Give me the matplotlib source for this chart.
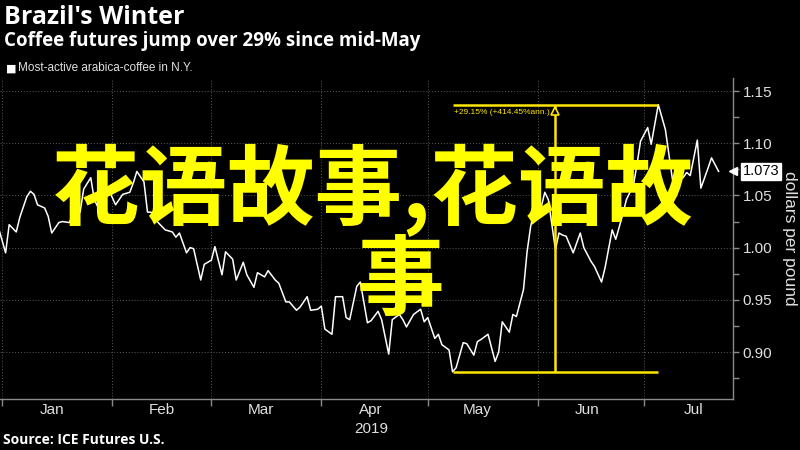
import numpy as np
import pandas as pd
import matplotlib as mpl
mpl.use('Agg')
import matplotlib.pyplot as plt
import matplotlib.dates as mdates
from matplotlib.ticker import MultipleLocator, FormatStrFormatter

# Most-active arabica coffee, N.Y. (dollars per pound)
dates = [
    '2018-12-31', '2019-01-02', '2019-01-03', '2019-01-05', '2019-01-06', '2019-01-08',
    '2019-01-09', '2019-01-10', '2019-01-11', '2019-01-13', '2019-01-14', '2019-01-15',
    '2019-01-17', '2019-01-18', '2019-01-20', '2019-01-21', '2019-01-23', '2019-01-24',
    '2019-01-26', '2019-01-27', '2019-01-29', '2019-01-31', '2019-02-02', '2019-02-03',
    '2019-02-04', '2019-02-06', '2019-02-07', '2019-02-08', '2019-02-10', '2019-02-11',
    '2019-02-12', '2019-02-14', '2019-02-16', '2019-02-18', '2019-02-19', '2019-02-20',
    '2019-02-22', '2019-02-23', '2019-02-24', '2019-02-26', '2019-02-27', '2019-03-01',
    '2019-03-02', '2019-03-04', '2019-03-05', '2019-03-07', '2019-03-08', '2019-03-10',
    '2019-03-11', '2019-03-13', '2019-03-14', '2019-03-16', '2019-03-17', '2019-03-19',
    '2019-03-20', '2019-03-22', '2019-03-23', '2019-03-25', '2019-03-26', '2019-03-28',
    '2019-03-29', '2019-03-31', '2019-04-01', '2019-04-02', '2019-04-04', '2019-04-05',
    '2019-04-07', '2019-04-08', '2019-04-09', '2019-04-11', '2019-04-12', '2019-04-14',
    '2019-04-15', '2019-04-17', '2019-04-18', '2019-04-20', '2019-04-21', '2019-04-23',
    '2019-04-24', '2019-04-25', '2019-04-27', '2019-04-29', '2019-04-30', '2019-05-01',
    '2019-05-03', '2019-05-04', '2019-05-05', '2019-05-07', '2019-05-08', '2019-05-09',
    '2019-05-11', '2019-05-12', '2019-05-14', '2019-05-15', '2019-05-16', '2019-05-18',
    '2019-05-20', '2019-05-21', '2019-05-22', '2019-05-24', '2019-05-25', '2019-05-26',
    '2019-05-28', '2019-05-29', '2019-05-30', '2019-05-31', '2019-06-02', '2019-06-03',
    '2019-06-04', '2019-06-06', '2019-06-07', '2019-06-08', '2019-06-09', '2019-06-11',
    '2019-06-13', '2019-06-14', '2019-06-16', '2019-06-17', '2019-06-19', '2019-06-20',
    '2019-06-22', '2019-06-23', '2019-06-25', '2019-06-26', '2019-06-28', '2019-06-29',
    '2019-06-30', '2019-07-02', '2019-07-03', '2019-07-05', '2019-07-07', '2019-07-09',
    '2019-07-10', '2019-07-12', '2019-07-13', '2019-07-14', '2019-07-16', '2019-07-17',
    '2019-07-19', '2019-07-20', '2019-07-22',
]
prices = [
    1.019, 0.995, 1.022, 1.015, 1.029, 1.049,
    1.054, 1.051, 1.041, 1.038, 1.030, 1.014,
    1.024, 1.025, 1.024, 1.034, 1.034, 1.056,
    1.067, 1.046, 1.032, 1.056, 1.041, 1.046,
    1.051, 1.053, 1.062, 1.073, 1.063, 1.034,
    1.034, 1.024, 1.017, 1.015, 1.010, 1.014,
    0.995, 1.000, 0.999, 0.969, 0.984, 0.988,
    1.001, 0.974, 0.996, 0.989, 0.969, 0.986,
    0.974, 0.962, 0.976, 0.972, 0.978, 0.969,
    0.966, 0.948, 0.948, 0.940, 0.943, 0.953,
    0.940, 0.941, 0.944, 0.922, 0.917, 0.953,
    0.953, 0.933, 0.931, 0.963, 0.967, 0.928,
    0.930, 0.939, 0.931, 0.898, 0.931, 0.936,
    0.931, 0.924, 0.936, 0.941, 0.929, 0.933,
    0.913, 0.917, 0.907, 0.902, 0.881, 0.885,
    0.909, 0.908, 0.897, 0.910, 0.912, 0.917,
    0.891, 0.900, 0.929, 0.919, 0.936, 0.934,
    0.960, 0.996, 1.020, 1.036, 1.039, 1.053,
    1.046, 0.998, 1.014, 1.012, 1.011, 0.995,
    1.014, 1.000, 0.987, 0.982, 0.967, 0.981,
    1.017, 1.008, 1.032, 1.046, 1.060, 1.080,
    1.102, 1.115, 1.099, 1.137, 1.113, 1.065,
    1.069, 1.067, 1.072, 1.069, 1.103, 1.057,
    1.076, 1.086, 1.073,
]

# low / high of the move since mid-May
move_dates = ['2019-05-08', '2019-07-05']
move_levels = [0.881, 1.137]
move_label = '+29.15% (+414.45%ann.)'

watermark = ['花语故事,花语故', '事']

dates = pd.to_datetime(dates)
move_dates = pd.to_datetime(move_dates)

GREY = '#8a8a8a'
TXT = '#e0e0e0'
YEL = '#ffe600'
tickfont = ['Liberation Sans', 'DejaVu Sans']

fig = plt.figure(figsize=(8, 4.5), dpi=100, facecolor='black')
ax = fig.add_axes([0.0, 0.1133, 0.916, 0.7134], facecolor='black')

ax.plot(dates, prices, color='white', lw=1.1, zorder=3)

# move annotation
lo_d, hi_d = move_dates
mid_d = lo_d + (hi_d - lo_d) / 2
ax.hlines(move_levels, lo_d, hi_d, color=YEL, lw=1.8, zorder=4)
ax.vlines(mid_d, move_levels[0], move_levels[1], color=YEL, lw=1.8, zorder=4)
ax.plot([mid_d], [move_levels[1] - 0.006], marker='^', ms=6, mfc='black',
        mec=YEL, mew=1.2, zorder=5)
ax.text(lo_d + pd.Timedelta(days=0.5), move_levels[1] - 0.004, move_label,
        color=YEL, fontsize=6, va='top', ha='left', family=tickfont, zorder=5)

ax.set_xlim(pd.Timestamp('2018-12-31 10:00'), pd.Timestamp('2019-07-26'))
ax.set_ylim(0.855, 1.1625)

# axes cosmetics
for s in ['left', 'top']:
    ax.spines[s].set_visible(False)
for s in ['right', 'bottom']:
    ax.spines[s].set_color(GREY)
    ax.spines[s].set_linewidth(1.0)

ax.yaxis.tick_right()
ax.yaxis.set_major_locator(MultipleLocator(0.05))
ax.yaxis.set_minor_locator(MultipleLocator(0.025))
ax.yaxis.set_major_formatter(FormatStrFormatter('%.2f'))
ax.tick_params(axis='y', which='major', colors=GREY, labelcolor=TXT,
               length=4, width=1, labelsize=11, pad=3)
ax.tick_params(axis='y', which='minor', colors=GREY, length=4, width=1)
for lab in ax.get_yticklabels():
    lab.set_family(tickfont)
fig.text(789 / 800, 1 - 238 / 450, 'dollars per pound', rotation=270, color=TXT,
         fontsize=12.5, ha='center', va='center', family=tickfont)

ax.xaxis.set_major_locator(mdates.MonthLocator())
ax.xaxis.set_major_formatter(plt.NullFormatter())
ax.xaxis.set_minor_locator(mdates.MonthLocator(bymonthday=15))
ax.xaxis.set_minor_formatter(mdates.DateFormatter('%b'))
ax.tick_params(axis='x', which='major', colors=GREY, length=5, width=1)
ax.tick_params(axis='x', which='minor', length=0, labelcolor=TXT,
               labelsize=11, pad=3)
for lab in ax.get_xticklabels(minor=True):
    lab.set_family(tickfont)
ax.text(pd.Timestamp('2019-04-15'), -0.073, '2019', transform=ax.get_xaxis_transform(),
        color=TXT, fontsize=11, ha='center', va='top', family=tickfont)

ax.grid(True, which='major', color='#5a5a5a', lw=0.7, ls=(0, (1, 2)))

# titles
fig.text(0.005, 0.962, "Brazil's Winter", color='white', fontsize=18,
         fontweight='bold', family='Open Sans', va='center', ha='left')
fig.text(0.005, 0.908, 'Coffee futures jump over 29% since mid-May', color='white',
         fontsize=13.5, fontweight='bold', family='Open Sans', va='center', ha='left')
fig.text(0.008, 0.848, '■', color='white', fontsize=8, va='center', ha='left')
fig.text(0.022, 0.848, 'Most-active arabica-coffee in N.Y.', color=TXT,
         fontsize=8.5, va='center', ha='left', family=tickfont)
fig.text(0.004, 0.022, 'Source: ICE Futures U.S.', color='white', fontsize=10,
         fontweight='bold', va='center', ha='left', family='Open Sans')

# last value tag
last = prices[-1]
ax.annotate('%.3f' % last, xy=(1.0, last), xycoords=('axes fraction', 'data'),
            xytext=(7, 0), textcoords='offset points', color='black', fontsize=10.5,
            va='center', ha='left', family=tickfont, annotation_clip=False,
            bbox=dict(boxstyle='square,pad=0.12', fc='white', ec='white'))
ax.plot([1.0], [last], marker='<', ms=6, color='white', clip_on=False,
        transform=ax.get_yaxis_transform(), zorder=6)

# overlaid watermark
wm_font = ['Noto Sans CJK SC', 'DejaVu Sans']
fig.text(372 / 800, 1 - 190 / 450, watermark[0], color='#ffff00', fontsize=63,
         fontweight='bold', family=wm_font, ha='center', va='center', zorder=10)
fig.text(400 / 800, 1 - 283 / 450, watermark[1], color='#ffff00', fontsize=63,
         fontweight='bold', family=wm_font, ha='center', va='center', zorder=10)

fig.savefig('out.png', dpi=100, facecolor='black')
